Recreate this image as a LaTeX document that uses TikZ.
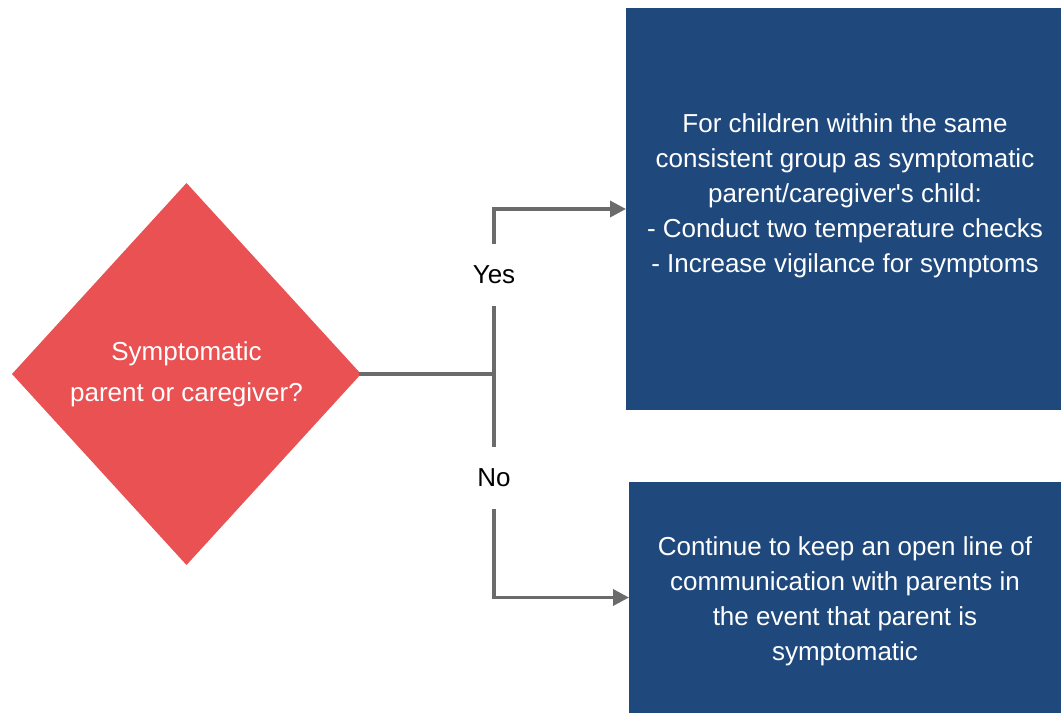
\documentclass[tikz,border=0pt]{standalone}
\usepackage{fontspec}
\setmainfont[Ligatures=TeXOff]{Liberation Sans}
\usepackage{tikz}
\usetikzlibrary{arrows.meta,positioning,shapes.geometric,calc}
\definecolor{deccol}{HTML}{E95153}
\definecolor{boxcol}{HTML}{1F497D}
\definecolor{arrcol}{HTML}{6B6B6B}

\begin{document}
\begin{tikzpicture}[x=1pt,y=-1pt,
  decision/.style={diamond,fill=deccol,draw=none,minimum width=349pt,
                   minimum height=382pt,inner sep=0pt,outer sep=0pt},
  actbox/.style={rectangle,fill=boxcol,draw=none,inner sep=0pt,outer sep=0pt},
  txt/.style={text=white,align=center,font=\fontsize{26}{35}\selectfont},
  arr/.style={-{Triangle[length=16pt,width=16pt]},draw=arrcol,line width=3.5pt},
  lbl/.style={fill=white,inner sep=0pt,minimum width=40pt,minimum height=62pt,
              font=\fontsize{26}{35}\selectfont}]
\useasboundingbox (0,0) rectangle (1061,713);
\node[decision] (dec) at (186.5,374) {};
\node[txt,font=\fontsize{26}{41}\selectfont] at (dec.center) {Symptomatic\\parent or caregiver?};
\node[actbox,minimum width=435pt,minimum height=402pt] (yes) at (843.5,209) {};
\node[txt] (yestxt) at (845,196) {For children within the same\\consistent group as symptomatic\\parent/caregiver's child:\\- Conduct two temperature checks\\- Increase vigilance for symptoms};
\node[actbox,minimum width=432pt,minimum height=231pt] (no) at (845,597.5) {};
\node[txt] (notxt) at (845,601) {Continue to keep an open line of\\communication with parents in\\the event that parent is\\symptomatic};
\coordinate (split) at (494,374);
\draw[arr,line cap=rect] (dec.east) -- (split) |- (yes.west);
\draw[arr] (split) |- (no.west);
\node[lbl] (ylab) at (494,275) {Yes};
\node[lbl] (nlab) at (494,478) {No};
\end{tikzpicture}
\end{document}
